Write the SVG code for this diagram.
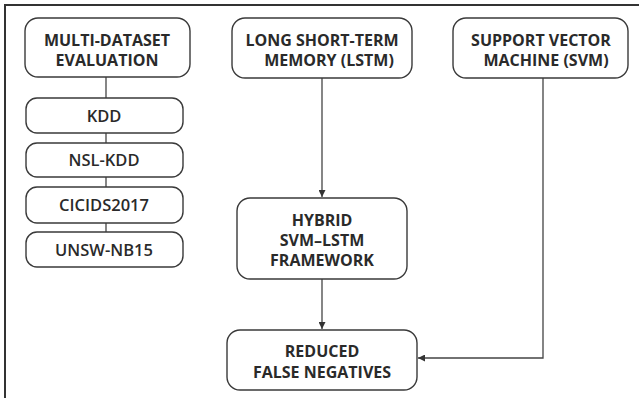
<svg xmlns="http://www.w3.org/2000/svg" width="639" height="398" viewBox="0 0 639 398">
<defs>
<style>
.box{fill:#fff;stroke:#3a3a3a;stroke-width:1.4}
.t{font-family:"Open Sans","Noto Sans","Liberation Sans",sans-serif;font-weight:700;font-size:16px;fill:#2a2a2a;text-anchor:middle}
.s{font-family:"Open Sans","Noto Sans","Liberation Sans",sans-serif;font-weight:600;font-size:16.5px;fill:#2a2a2a;text-anchor:middle}
.c{fill:none;stroke:#444;stroke-width:1.3}
.frame{fill:none;stroke:#333;stroke-width:2}
</style>
<marker id="ah" viewBox="0 0 10 10" refX="10" refY="5" markerWidth="7" markerHeight="7" orient="auto" markerUnits="userSpaceOnUse">
<path d="M0,0 L10,5 L0,10 z" fill="#333"/>
</marker>
</defs>
<rect width="639" height="398" fill="#fff"/>
<path class="frame" d="M5,398 V5 H639"/>
<g id="connectors">
<line class="c" x1="106" y1="77" x2="106" y2="98"/>
<line class="c" x1="106" y1="133" x2="106" y2="143"/>
<line class="c" x1="106" y1="177" x2="106" y2="187"/>
<line class="c" x1="106" y1="223" x2="106" y2="232"/>
<line class="c" x1="322" y1="78" x2="322" y2="197" marker-end="url(#ah)"/>
<line class="c" x1="322" y1="279" x2="322" y2="329" marker-end="url(#ah)"/>
<path class="c" d="M543,78 V358 H418" marker-end="url(#ah)"/>
</g>
<g id="multi">
<rect class="box" x="25" y="18" width="165" height="59" rx="13"/>
<text class="t" x="107" y="46">MULTI-DATASET</text>
<text class="t" x="107" y="66">EVALUATION</text>
</g>
<g id="kdd">
<rect class="box" x="26" y="98" width="157" height="35" rx="11"/>
<text class="s" x="104" y="122">KDD</text>
</g>
<g id="nslkdd">
<rect class="box" x="26" y="143" width="157" height="34" rx="11"/>
<text class="s" x="104" y="166">NSL-KDD</text>
</g>
<g id="cicids">
<rect class="box" x="26" y="187" width="157" height="36" rx="11"/>
<text class="s" x="104" y="211">CICIDS2017</text>
</g>
<g id="unsw">
<rect class="box" x="26" y="232" width="157" height="35" rx="11"/>
<text class="s" x="104" y="256">UNSW-NB15</text>
</g>
<g id="lstm">
<rect class="box" x="232" y="18" width="180" height="60" rx="13"/>
<text class="t" x="322" y="46">LONG SHORT-TERM</text>
<text class="t" x="329" y="66">MEMORY (LSTM)</text>
</g>
<g id="svm">
<rect class="box" x="453" y="18" width="175" height="60" rx="13"/>
<text class="t" x="541" y="46">SUPPORT VECTOR</text>
<text class="t" x="546" y="66">MACHINE (SVM)</text>
</g>
<g id="hybrid">
<rect class="box" x="237" y="198" width="170" height="81" rx="13"/>
<text class="t" x="322" y="226">HYBRID</text>
<text class="t" x="322" y="246">SVM–LSTM</text>
<text class="t" x="322" y="266">FRAMEWORK</text>
</g>
<g id="reduced">
<rect class="box" x="227" y="330" width="190" height="60" rx="13"/>
<text class="t" x="322" y="357">REDUCED</text>
<text class="t" x="322" y="378">FALSE NEGATIVES</text>
</g>
</svg>
